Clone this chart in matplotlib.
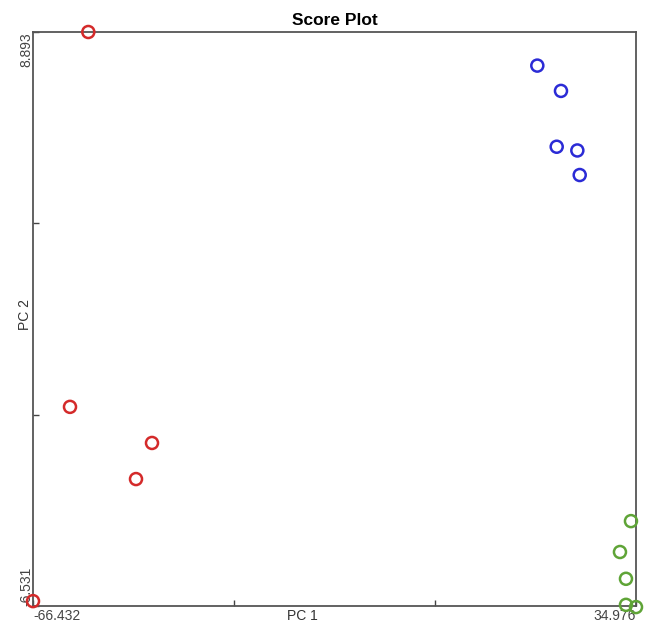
import matplotlib.pyplot as plt

plt.rcParams['font.family'] = ['Liberation Sans', 'DejaVu Sans']

# score values
red_x = [-57.13, -60.21, -46.42, -49.11, -66.432]
red_y = [8.893, -1.18, -2.15, -3.12, -6.40]
blue_x = [18.38, 22.36, 21.64, 25.11, 25.51]
blue_y = [7.99, 7.31, 5.81, 5.71, 5.05]
green_x = [34.13, 32.28, 33.29, 33.29, 34.976]
green_y = [-4.25, -5.08, -5.80, -6.50, -6.56]

x_min, x_max = -66.432, 34.976
y_min, y_max = -6.531, 8.893

fig = plt.figure(figsize=(6.45, 6.26), dpi=100)
ax = fig.add_axes([33 / 645, 20 / 626, 603 / 645, 574 / 626])

for xs, ys, col in [(red_x, red_y, '#d42a2a'),
                    (blue_x, blue_y, '#2b2bd6'),
                    (green_x, green_y, '#5fa437')]:
    ax.scatter(xs, ys, s=75, facecolors='none', edgecolors=col,
               linewidths=1.8, clip_on=False, zorder=3)

ax.set_xlim(x_min, x_max)
ax.set_ylim(y_min, y_max)

xt = [x_min + i * (x_max - x_min) / 3 for i in range(4)]
yt = [y_min + i * (y_max - y_min) / 3 for i in range(4)]
ax.set_xticks(xt)
ax.set_yticks(yt)
ax.set_xticklabels(['-66.432', '', '', '34.976'])
ax.set_yticklabels(['-6.531', '', '', '8.893'], rotation=90)
ax.tick_params(direction='in', length=4, width=1, colors='#444444',
               labelsize=10)
ax.tick_params(axis='x', pad=2)
ax.tick_params(axis='y', pad=0)
xl = ax.get_xticklabels()
xl[0].set_ha('left')
xl[-1].set_ha('right')
yl = ax.get_yticklabels()
yl[0].set_va('bottom')
yl[-1].set_va('top')

for sp in ax.spines.values():
    sp.set_color('#555555')
    sp.set_linewidth(1.3)

ax.set_title('Score Plot', fontsize=12.5, fontweight='bold', pad=5)
ax.set_xlabel('PC 1', fontsize=10, color='#333333')
ax.set_ylabel('PC 2', fontsize=10, color='#333333')
ax.xaxis.set_label_coords((302 - 33) / 603, -0.006)
ax.yaxis.set_label_coords(-0.002, (606 - 315) / 574)

fig.savefig('out.png', dpi=100)
